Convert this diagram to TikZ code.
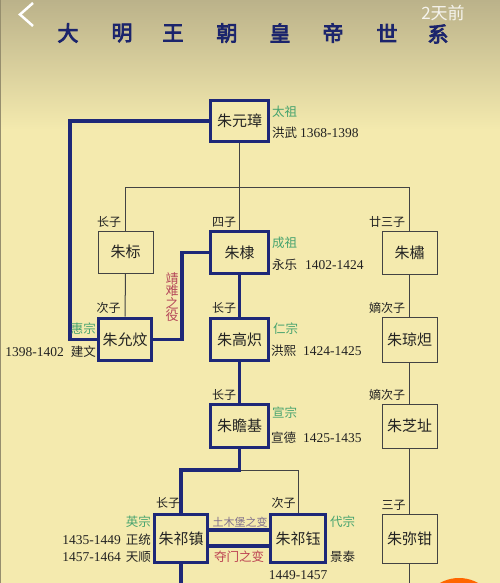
\documentclass[tikz,border=0pt]{standalone}
\usepackage{fontspec}
\setmainfont{Liberation Serif}
\newfontfamily\cjk{Noto Sans CJK SC}
\newfontfamily\cjktitle{Noto Sans CJK SC}[FakeBold=4]
\definecolor{bg}{HTML}{F4EAAE}
\definecolor{bgtop}{HTML}{BBB28A}
\definecolor{navy}{HTML}{1E2878}
\definecolor{dgreen}{HTML}{46A36E}
\definecolor{dred}{HTML}{B5485A}
\definecolor{ink}{HTML}{222222}
\definecolor{tumu}{HTML}{7E6E8C}
\tikzset{
  thk/.style={draw=navy, line width=3.7pt},
  thn/.style={draw=ink!85, line width=1pt},
  namebox/.style={fill=bg, inner sep=0pt, font=\cjk\fontsize{15}{15}\selectfont, text=ink},
  kingbox/.style={namebox, thk},
  plainbox/.style={namebox, thn},
  lbl/.style={inner sep=0pt, font=\cjk\fontsize{12}{12}\selectfont, text=ink},
  miao/.style={inner sep=0pt, anchor=west, font=\cjk\fontsize{12.5}{12.5}\selectfont, text=dgreen},
  era/.style={inner sep=0pt, anchor=west, font=\cjk\fontsize{12.5}{12.5}\selectfont, text=ink},
  yrs/.style={inner sep=0pt, anchor=west, font=\fontsize{13.5}{13.5}\selectfont, text=ink},
  ttl/.style={inner sep=0pt, font=\cjktitle\fontsize{21}{21}\selectfont, text=navy!90!black},
}
\begin{document}
\begin{tikzpicture}[x=1pt,y=-1pt]
\useasboundingbox (0,0) rectangle (500,583);
\clip (0,0) rectangle (500,583);
% background
\fill[bg] (0,0) rectangle (500,583);
\shade[top color=bgtop, bottom color=bg] (0,0) rectangle (500,130);
\draw[color=bgtop!80!black, line width=1.5pt] (0.5,0) -- (0.5,583);
% phone overlay
\draw[white, line width=2.5pt] (33,3) -- (20,14.5) -- (33,26);
\node[inner sep=0pt, text=white, opacity=0.85, font=\cjk\fontsize{17}{17}\selectfont] (ago) at (443,13) {2天前};
\fill[orange!80!red] (459,617) circle (39);
% title
\node[ttl] (t1) at (68,33) {大};
\node[ttl] (t2) at (122,33) {明};
\node[ttl] (t3) at (173,33) {王};
\node[ttl] (t4) at (227,33) {朝};
\node[ttl] (t5) at (280,33) {皇};
\node[ttl] (t6) at (333,33) {帝};
\node[ttl] (t7) at (387,33) {世};
\node[ttl] (t8) at (438,34) {系};
% helper coordinates
\coordinate (H) at (0,187);
\coordinate (L) at (70,0);
\coordinate (J) at (182,0);
\coordinate (M) at (0,470);
\coordinate (B) at (0,595);
% boxes
\node[kingbox, minimum width=58pt, minimum height=41pt] (zyz) at (239.5,121) {朱元璋};
\node[plainbox, minimum width=55pt, minimum height=42pt] (zb) at (125.5,252) {朱标};
\node[kingbox, minimum width=58pt, minimum height=42pt] (zd) at (239.5,252.5) {朱棣};
\node[plainbox, minimum width=55pt, minimum height=43pt] (zs) at (409.5,252.5) {朱橚};
\node[kingbox, minimum width=53pt, minimum height=42pt] (zyw) at (125,339.5) {朱允炆};
\node[kingbox, minimum width=58pt, minimum height=42pt] (zgc) at (239.5,339.5) {朱高炽};
\node[plainbox, minimum width=55pt, minimum height=45pt] (zqd) at (409.5,339.5) {朱琼炟};
\node[kingbox, minimum width=58pt, minimum height=43pt] (zzj) at (239.5,426) {朱瞻基};
\node[plainbox, minimum width=55pt, minimum height=44pt] (zzz) at (409.5,426) {朱芝址};
\node[kingbox, minimum width=53pt, minimum height=48pt] (zqz) at (181,538.5) {朱祁镇};
\node[kingbox, minimum width=55pt, minimum height=48pt] (zqy) at (298,538.5) {朱祁钰};
\node[plainbox, minimum width=55pt, minimum height=49pt] (zmj) at (409.5,538.5) {朱弥钳};
% thin connectors
\draw[thn] (zyz.south) -- (zyz.south |- H);
\draw[thn] (zb.north) -- (zb.north |- H) -- (zs.north |- H) -- (zs.north);
\draw[thn] (zd.north) -- (zd.north |- H);
\draw[thn] (zb.south) -- (zyw.north);
\draw[thn] (zs.south) -- (zqd.north);
\draw[thn] (zqd.south) -- (zzz.north);
\draw[thn] (zzz.south) -- (zmj.north);
\draw[thn] (zmj.south) -- (zmj.south |- B);
\draw[thn] (zzj.south |- M) -| (zqy.north);
% thick connectors
\draw[thk] (zyz.west) -| (L |- zyw.west) -- (zyw.west);
\draw[thk] (zd.west) -| (J |- zyw.east) -- (zyw.east);
\draw[thk] (zd.south) -- (zgc.north);
\draw[thk] (zgc.south) -- (zzj.north);
\draw[thk] (zzj.south) -- (zzj.south |- M) -| (zqz.north);
\draw[thk] (zqz.south) -- (zqz.south |- B);
\draw[thk] ([yshift=8.5pt]zqz.east) -- ([yshift=8.5pt]zqy.west);
\draw[thk] ([yshift=-7.5pt]zqz.east) -- ([yshift=-7.5pt]zqy.west);
% son labels
\node[lbl] (s1) at (109,222) {长子};
\node[lbl] (s2) at (224,222) {四子};
\node[lbl] (s3) at (387,222) {廿三子};
\node[lbl] (s4) at (108.5,308) {次子};
\node[lbl] (s5) at (224,308) {长子};
\node[lbl] (s6) at (387,308) {嫡次子};
\node[lbl] (s7) at (224,395) {长子};
\node[lbl] (s8) at (387,395) {嫡次子};
\node[lbl] (s9) at (168,503) {长子};
\node[lbl] (s10) at (283.5,503) {次子};
\node[lbl] (s11) at (393.5,505) {三子};
% reign labels
\node[miao] (m1) at (272,112) {太祖};
\node[era] (e1) at (272,133) {洪武};
\node[yrs] (y1) at (300,133) {1368-1398};
\node[miao] (m2) at (272,243) {成祖};
\node[era] (e2) at (272,265) {永乐};
\node[yrs] (y2) at (305,265) {1402-1424};
\node[miao] (m3) at (273,329) {仁宗};
\node[era] (e3) at (271,351) {洪熙};
\node[yrs] (y3) at (303,351) {1424-1425};
\node[miao] (m4) at (272,413) {宣宗};
\node[era] (e4) at (271,438) {宣德};
\node[yrs] (y4) at (303,438) {1425-1435};
\node[miao, anchor=east] (m5) at (96,329) {惠宗};
\node[era, anchor=east] (e5) at (96,352) {建文};
\node[yrs, anchor=east] (y5) at (64,352) {1398-1402};
\node[miao, anchor=east] (m6) at (151,522) {英宗};
\node[era, anchor=east] (e6) at (151,540) {正统};
\node[yrs, anchor=east] (y6) at (121,540) {1435-1449};
\node[era, anchor=east] (e7) at (151,557) {天顺};
\node[yrs, anchor=east] (y7) at (121,557) {1457-1464};
\node[miao] (m8) at (330,522) {代宗};
\node[era] (e8) at (330,557) {景泰};
\node[yrs, anchor=center] (y8) at (298,575) {1449-1457};
% events
\node[inner sep=0pt, font=\cjk\fontsize{13}{13}\selectfont, text=dred, align=center] (jn) at (172,297) {靖\\[-0.5pt]难\\[-0.5pt]之\\[-0.5pt]役};
\node[inner sep=0pt, font=\cjk\fontsize{11}{11}\selectfont, text=tumu] (tm) at (240,522) {土木堡之变};
\node[inner sep=0pt, font=\cjk\fontsize{12.5}{12.5}\selectfont, text=dred!90!red] (dm) at (239,557) {夺门之变};
\end{tikzpicture}
\end{document}
